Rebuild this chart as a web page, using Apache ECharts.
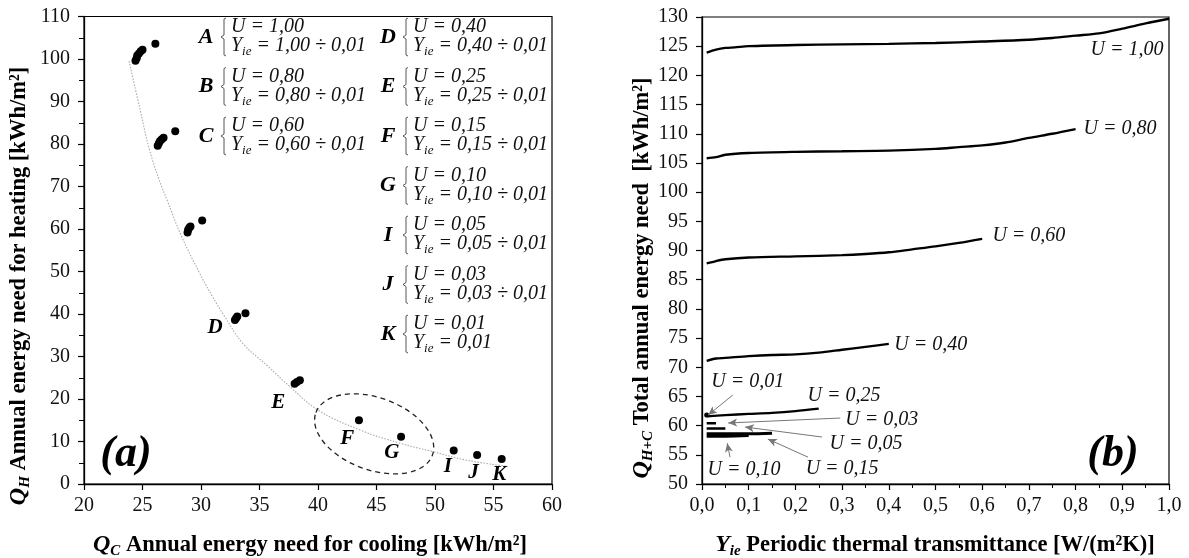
<!DOCTYPE html>
<html>
<head>
<meta charset="utf-8">
<script src="https://cdn.jsdelivr.net/npm/echarts@6/dist/echarts.min.js"></script>
<style>
html,body{margin:0;padding:0;background:#fff;}
#chart{width:1189px;height:558px;}
</style>
</head>
<body>
<div id="chart"></div>
<script>
// ---------- Panel (a): scatter data ----------
const qcPoints = [24.4,24.5,24.55,24.7,24.85,25.0,26.1,
                  26.3,26.4,26.5,26.65,26.8,27.8,
                  28.85,28.9,29.0,29.1,30.1,
                  32.9,33.0,33.1,33.8,
                  38.0,38.2,38.45,
                  43.5,47.1,51.6,53.6,55.7];
const qhPoints = [99.6,100.2,100.8,101.3,101.8,102.2,103.6,
                  79.6,80.2,80.7,81.1,81.5,83.0,
                  59.2,59.8,60.3,60.6,62.0,
                  38.6,39.0,39.4,40.2,
                  23.6,24.0,24.4,
                  15.0,11.1,7.9,6.8,5.9];
// trend curve
const trendQc = [23.85,24.8,25.6,26.5,27.1,28.3,29.9,31.0,32.0,33.6,35.6,37.6,40.0,43.6,47.0,49.85,52.7,56.07];
const trendQh = [99.5,88.0,78.6,71.0,66.8,58.5,49.5,44.0,39.5,33.0,28.0,22.9,17.4,12.7,9.6,7.6,5.6,4.2];
// group letters near points
const groupNames = ['D','E','F','G','I','J','K'];
const groupLabelQc = [31.2,36.6,42.5,46.3,51.1,53.3,55.5];
const groupLabelQh = [36.7,19.1,10.8,7.5,4.2,2.6,2.1];
// dashed ellipse: centre (Qc,Qh), half sizes (Qc,Qh)
const ellipseSpec = [44.8, 11.8, 5.3, 8.5];
// legend block
const legendLetters = ['A','B','C','D','E','F','G','I','J','K'];
const legendU = ['1,00','0,80','0,60','0,40','0,25','0,15','0,10','0,05','0,03','0,01'];
const legendY = ['1,00 ÷ 0,01','0,80 ÷ 0,01','0,60 ÷ 0,01','0,40 ÷ 0,01','0,25 ÷ 0,01','0,15 ÷ 0,01','0,10 ÷ 0,01','0,05 ÷ 0,01','0,03 ÷ 0,01','0,01'];

// ---------- Panel (b): line data ----------
const yie100 = [0.01,0.03,0.05,0.07,0.1,0.2,0.3,0.4,0.5,0.6,0.7,0.75,0.8,0.85,0.9,0.95,1.0];
const q100   = [123.9,124.4,124.7,124.8,125.0,125.2,125.3,125.4,125.55,125.8,126.1,126.4,126.8,127.2,128.0,128.9,129.7];
const yie80 = [0.01,0.03,0.05,0.1,0.2,0.3,0.4,0.5,0.55,0.6,0.65,0.7,0.75,0.8];
const q80   = [105.8,106.0,106.4,106.7,106.9,107.0,107.1,107.4,107.7,108.0,108.5,109.3,110.0,110.8];
const yie60 = [0.01,0.03,0.05,0.1,0.2,0.3,0.35,0.4,0.45,0.5,0.55,0.6];
const q60   = [87.8,88.2,88.5,88.8,89.0,89.2,89.4,89.7,90.2,90.7,91.3,92.0];
const yie40 = [0.01,0.03,0.05,0.1,0.15,0.2,0.25,0.3,0.35,0.4];
const q40   = [71.1,71.5,71.6,71.9,72.1,72.2,72.5,73.0,73.5,74.0];
const yie25 = [0.01,0.05,0.1,0.15,0.2,0.25];
const q25   = [61.6,61.8,62.0,62.2,62.5,62.9];
const yie15 = [0.01,0.05,0.1,0.15];
const q15   = [58.6,58.6,58.6,58.7];
const yie10 = [0.01,0.05,0.1];
const q10   = [58.2,58.2,58.3];
const yie05 = [0.01,0.03,0.05];
const q05   = [59.5,59.5,59.5];
const yie03 = [0.01,0.03];
const q03   = [60.4,60.4];
const yie01 = [0.01];
const q01   = [61.8];
// labels in panel (b)
const bLabelText = ['U = 1,00','U = 0,80','U = 0,60','U = 0,40','U = 0,25','U = 0,01','U = 0,03','U = 0,05','U = 0,10','U = 0,15'];
const bLabelX = [0.910,0.895,0.700,0.490,0.304,0.098,0.385,0.351,0.090,0.300];
const bLabelY = [124.35,110.8,92.5,73.8,65.1,67.5,61.0,56.85,52.4,52.6];
// arrows: from -> to
const arrowFromX = [0.066,0.296,0.257,0.060,0.227];
const arrowFromY = [65.25,61.3,58.05,54.6,54.6];
const arrowToX   = [0.013,0.056,0.092,0.054,0.141];
const arrowToY   = [61.8,60.45,59.76,57.0,57.7];

const FONT = "'Liberation Serif','Times New Roman',serif";
const zip = (a,b) => a.map((v,i)=>[v,b[i]]);

const chart = echarts.init(document.getElementById('chart'));

function lineSeries(x, y, w) {
  return {
    type:'line', xAxisIndex:1, yAxisIndex:1, data: zip(x,y), smooth:0.3,
    showSymbol:false, lineStyle:{color:'#000', width:w||2.3}, silent:true
  };
}

// graphic elements: legend block, titles, (a)/(b)
const graphics = [];
legendLetters.forEach((L,i)=>{
  const col = i<3 ? 0 : 1;
  const row = i<3 ? i : i-3;
  const letterX = col===0 ? 206 : 388;
  const braceX = col===0 ? 221 : 403;
  const textX = col===0 ? 231 : 413;
  const uy = 27 + row*49.5;
  const yy = uy + 19;
  graphics.push({type:'text', x:letterX, y:uy+10, style:{text:L, fontFamily:FONT, fontStyle:'italic', fontWeight:'bold', fontSize:22, fill:'#000', align:'center', verticalAlign:'middle'}});
  graphics.push({type:'polyline', shape:{points:[[braceX+5,uy-9],[braceX+3,uy-8],[braceX+3,uy+8],[braceX,uy+10],[braceX+3,uy+12],[braceX+3,yy+9],[braceX+5,yy+10]]}, style:{stroke:'#444', lineWidth:0.9, fill:null}});
  graphics.push({type:'text', x:textX, y:uy, style:{text:'U = '+legendU[i], align:'left', verticalAlign:'middle', fontFamily:FONT, fontStyle:'italic', fontSize:20, fill:'#111'}});
  graphics.push({type:'text', x:textX, y:yy, style:{
    text:'{y|Y}{s|ie}{y| = '+legendY[i]+'}', align:'left', verticalAlign:'middle',
    rich:{y:{fontFamily:FONT, fontStyle:'italic', fontSize:20, fill:'#111'},
          s:{fontFamily:FONT, fontStyle:'italic', fontSize:13, fill:'#111', padding:[12,0,0,0]}}
  }});
});
const titleRich = {
  q:{fontFamily:FONT, fontStyle:'italic', fontWeight:'bold', fontSize:24, fill:'#000'},
  s:{fontFamily:FONT, fontStyle:'italic', fontWeight:'bold', fontSize:15, fill:'#000', padding:[13,0,0,0]},
  b:{fontFamily:FONT, fontWeight:'bold', fontSize:22.5, fill:'#000'}
};
graphics.push({type:'text', x:310, y:545, style:{text:'{q|Q}{s|C}{b| Annual energy need for cooling [kWh/m²]}', align:'center', verticalAlign:'middle', rich:titleRich}});
graphics.push({type:'text', x:935, y:545, style:{text:'{q|Y}{s|ie}{b| Periodic thermal transmittance [W/(m²K)]}', align:'center', verticalAlign:'middle', rich:titleRich}});
graphics.push({type:'text', x:19, y:286, rotation:Math.PI/2, style:{text:'{q|Q}{s|H}{b| Annual energy need for heating [kWh/m²]}', align:'center', verticalAlign:'middle', rich:titleRich}});
graphics.push({type:'text', x:642, y:278, rotation:Math.PI/2, style:{text:'{q|Q}{s|H+C}{b| Total annual energy need  [kWh/m²]}', align:'center', verticalAlign:'middle', rich:titleRich}});
graphics.push({type:'text', x:126, y:455, style:{text:'(a)', fontFamily:FONT, fontStyle:'italic', fontWeight:'bold', fontSize:44, fill:'#000', align:'center', verticalAlign:'middle'}});
graphics.push({type:'text', x:1113, y:455, style:{text:'(b)', fontFamily:FONT, fontStyle:'italic', fontWeight:'bold', fontSize:44, fill:'#000', align:'center', verticalAlign:'middle'}});

const axisCommon = {
  axisLine:{show:true, lineStyle:{color:'#000', width:1.3}},
  axisTick:{show:true, length:6, lineStyle:{color:'#000', width:1.2}},
  splitLine:{show:false},
  axisLabel:{fontFamily:FONT, fontSize:20, color:'#111'}
};

const option = {
  backgroundColor:'#fff',
  animation:false,
  grid:[
    {left:84, top:16.5, width:468, height:467.5, show:true, borderColor:'#000', borderWidth:1.2, backgroundColor:'transparent'},
    {left:702, top:17, width:467, height:467, show:true, borderColor:'#000', borderWidth:1.2, backgroundColor:'transparent'}
  ],
  xAxis:[
    Object.assign({}, axisCommon, {gridIndex:0, type:'value', min:20, max:60, interval:5,
      axisLabel:Object.assign({}, axisCommon.axisLabel, {margin:12})}),
    Object.assign({}, axisCommon, {gridIndex:1, type:'value', min:0, max:1, interval:0.1,
      minorTick:{show:true, splitNumber:2, length:4, lineStyle:{color:'#000'}},
      axisLabel:Object.assign({}, axisCommon.axisLabel, {margin:12, formatter:v=>v.toFixed(1).replace('.',',')})})
  ],
  yAxis:[
    Object.assign({}, axisCommon, {gridIndex:0, type:'value', min:0, max:110, interval:10,
      minorTick:{show:true, splitNumber:2, length:5, lineStyle:{color:'#000'}},
      axisLabel:Object.assign({}, axisCommon.axisLabel, {margin:14})}),
    Object.assign({}, axisCommon, {gridIndex:1, type:'value', min:50, max:130, interval:5,
      axisLabel:Object.assign({}, axisCommon.axisLabel, {margin:14})})
  ],
  graphic: graphics,
  series:[
    {type:'line', xAxisIndex:0, yAxisIndex:0, data: zip(trendQc,trendQh), smooth:0.4, showSymbol:false,
     lineStyle:{color:'#aaaaaa', width:1.1, type:[1.5,1.5]}, silent:true, z:1},
    {type:'scatter', xAxisIndex:0, yAxisIndex:0, data: zip(qcPoints,qhPoints), symbolSize:8,
     itemStyle:{color:'#000', opacity:1}, silent:true, z:3},
    {type:'scatter', xAxisIndex:0, yAxisIndex:0, symbolSize:0, silent:true, itemStyle:{opacity:1},
     data: groupNames.map((n,i)=>({name:n, value:[groupLabelQc[i], groupLabelQh[i]]})),
     label:{show:true, position:'inside', formatter:'{b}', fontFamily:FONT, fontStyle:'italic', fontWeight:'bold', fontSize:21, color:'#000', opacity:1}},
    {type:'custom', xAxisIndex:0, yAxisIndex:0, silent:true, data:[ellipseSpec],
     renderItem:function(params, api){
       const c = api.coord([api.value(0), api.value(1)]);
       const s = api.size([api.value(2), api.value(3)]);
       return {type:'ellipse', x:c[0], y:c[1], rotation:-20*Math.PI/180,
         shape:{cx:0, cy:0, rx:s[0], ry:s[1]},
         style:{fill:'none', stroke:'#222', lineWidth:1.3, lineDash:[5,4]}};
     }},
    lineSeries(yie100,q100),
    lineSeries(yie80,q80),
    lineSeries(yie60,q60),
    lineSeries(yie40,q40),
    lineSeries(yie25,q25),
    lineSeries(yie15,q15,3),
    lineSeries(yie10,q10,3),
    lineSeries(yie05,q05,2.5),
    lineSeries(yie03,q03,2.5),
    {type:'scatter', xAxisIndex:1, yAxisIndex:1, data: zip(yie01,q01), symbolSize:5, itemStyle:{color:'#000', opacity:1}, silent:true},
    {type:'scatter', xAxisIndex:1, yAxisIndex:1, symbolSize:0, silent:true, itemStyle:{opacity:1},
     data: bLabelText.map((t,i)=>({name:t, value:[bLabelX[i], bLabelY[i]]})),
     label:{show:true, position:'inside', formatter:'{b}', fontFamily:FONT, fontStyle:'italic', fontSize:20, color:'#111', opacity:1},
     markLine:{silent:true, symbol:['none','arrow'], symbolSize:[6,9], animation:false,
       lineStyle:{color:'#777', width:1, type:'solid'}, label:{show:false},
       data: arrowFromX.map((x,i)=>[{coord:[x, arrowFromY[i]]},{coord:[arrowToX[i], arrowToY[i]]}])}
    }
  ]
};
chart.setOption(option);
</script>
</body>
</html>
